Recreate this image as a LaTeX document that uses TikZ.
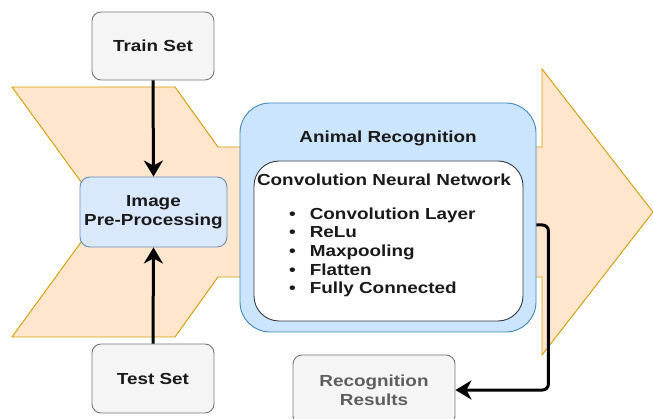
\documentclass[tikz,border=0pt]{standalone}
\usepackage{fontspec}
\setmainfont[FakeStretch=1.18]{Liberation Sans}
\usetikzlibrary{arrows.meta}
\definecolor{flowfill}{HTML}{FFE6CC}
\definecolor{flowline}{HTML}{D79B00}
\definecolor{modfill}{HTML}{CCE5FF}
\definecolor{modline}{HTML}{3F87B9}
\definecolor{prepfill}{HTML}{DAE8FC}
\definecolor{prepline}{HTML}{6C8EBF}
\definecolor{setfill}{HTML}{F5F5F5}
\definecolor{setline}{HTML}{777777}
\definecolor{inkdark}{HTML}{1A1A1A}
\definecolor{inkgray}{HTML}{5E5E5E}
\definecolor{cnnline}{HTML}{36393D}
\begin{document}
\begin{tikzpicture}[x=1pt,y=-1pt,
  every node/.style={font=\fontsize{16}{18.6}\selectfont\bfseries, text=inkdark},
  setbox/.style={draw=setline, fill=setfill, rounded corners=9pt, line width=0.9pt,
    minimum width=122pt, minimum height=68pt, align=center},
  prepbox/.style={draw=prepline, fill=prepfill, rounded corners=10pt, line width=0.9pt,
    minimum width=147pt, minimum height=70pt, align=center},
  modbox/.style={draw=modline, fill=modfill, rounded corners=30pt, line width=0.9pt,
    minimum width=296pt, minimum height=229pt},
  cnnbox/.style={draw=cnnline, fill=white, rounded corners=25pt, line width=0.9pt,
    minimum width=269pt, minimum height=160pt},
  conn/.style={line width=3pt, draw=black,
    -{Stealth[length=16pt,width=19pt,inset=5pt]}}
]
\useasboundingbox (0,0) rectangle (653,419);

% process band: notched tail leading into a large arrow head
\draw[fill=flowfill, draw=flowline, line width=0.9pt, line join=miter]
  (12,87) -- (175,87) -- (218,147) -- (542,147) -- (542,69) -- (653,212)
  -- (542,355) -- (542,277) -- (218,277) -- (175,337) -- (12,337)
  -- (103,212) -- cycle;

% recognition module with the CNN inside
\node[modbox] (ar) at (388,217.5) {};
\node (artitle) at (388,138) {Animal Recognition};
\node[cnnbox] (cnn) at (388.5,241) {};
\node (cnntitle) at (384,180) {Convolution Neural Network};
\node[anchor=north west, inner sep=0pt] (layers) at (289,206) {%
  \begin{tabular}{@{}l@{\hspace{14pt}}l@{}}
  \textbullet & Convolution Layer\\
  \textbullet & ReLu\\
  \textbullet & Maxpooling\\
  \textbullet & Flatten\\
  \textbullet & Fully Connected
  \end{tabular}};

% data sets and preprocessing
\node[setbox] (train) at (153,46) {Train Set};
\node[setbox, minimum height=69pt] (test) at (153,378.5) {Test Set};
\node[prepbox] (prep) at (153.5,212) {Image\\Pre-Processing};

% output
\node[setbox, minimum width=162pt, minimum height=70pt, text=inkgray] (res) at (374,390)
  {Recognition\\Results};

% connectors
\draw[conn] (train.south) -- (prep.north);
\draw[conn] (test.north) -- (prep.south);
\draw[conn, rounded corners=6pt] ([yshift=-7.5pt]ar.east) -- ++(12,0) |- (res.east);
\end{tikzpicture}
\end{document}
